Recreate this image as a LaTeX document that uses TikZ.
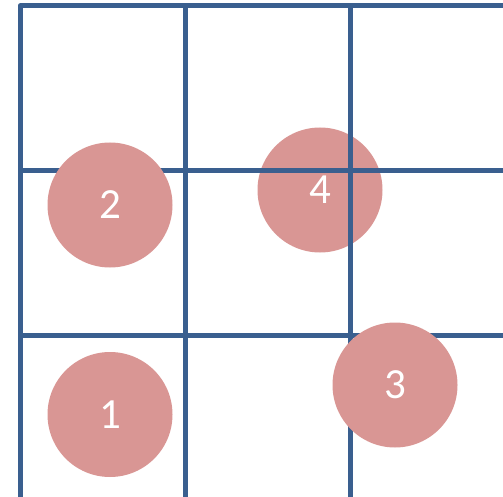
\documentclass[tikz,border=0pt]{standalone}
\usepackage{fontspec}
\setmainfont{Carlito}
\definecolor{gridblue}{HTML}{3A5F8F}
\definecolor{dotpink}{HTML}{D99694}

\begin{document}
\begin{tikzpicture}[x=1pt, y=-1pt,
      dot/.style={circle, fill=dotpink, minimum size=125pt, inner sep=0pt, text=white,
                  font=\fontsize{43}{43}\selectfont},
      gridline/.style={gridblue, line width=5pt, line join=round}]
    \useasboundingbox (0, 0) rectangle (503, 497);
    % circle 4 lies under the grid
    \node[dot] (d4) at (320, 190) {4};
    \draw[gridline] (20, 497) -- (20, 6) -- (503, 6);
    \foreach \x in {185, 350}
      \draw[gridline] (\x, 6) -- (\x, 497);
    \foreach \y in {170.5, 335.5}
      \draw[gridline] (20, \y) -- (503, \y);
    \node[dot] (d1) at (110, 414.5) {1};
    \node[dot] (d2) at (110, 205) {2};
    \node[dot] (d3) at (395, 385) {3};
  \end{tikzpicture}
\end{document}
